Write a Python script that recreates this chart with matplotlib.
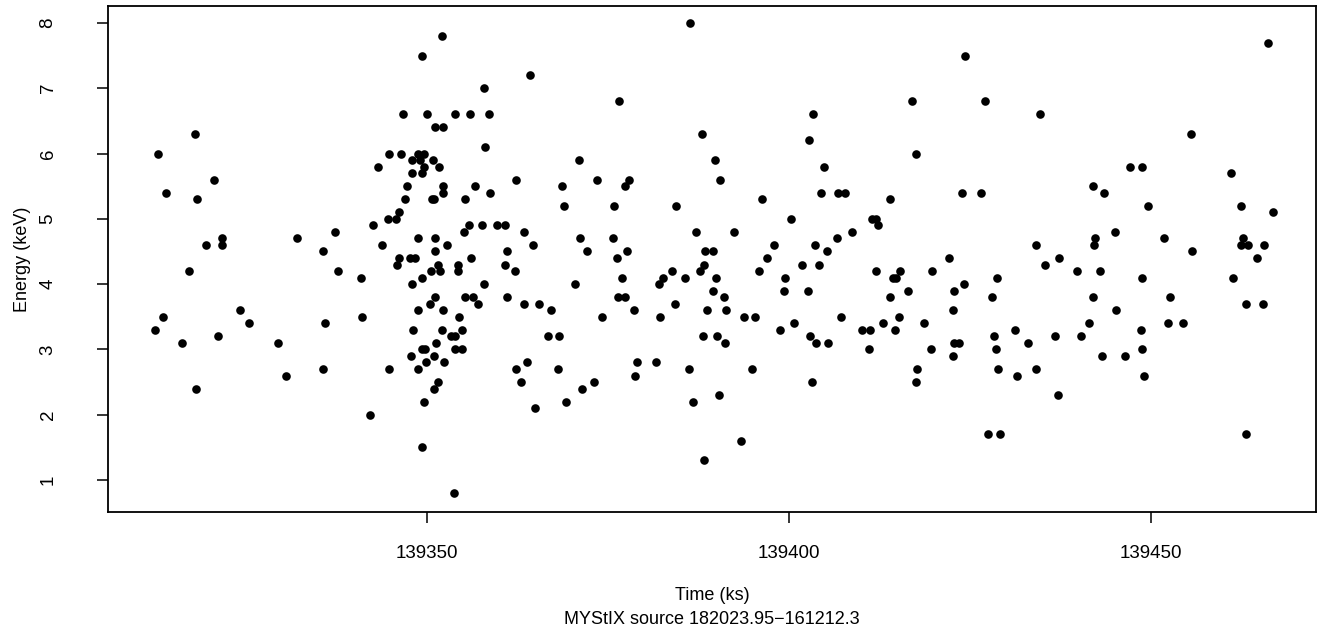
import matplotlib
matplotlib.use("Agg")
import matplotlib.pyplot as plt
import numpy as np

plt.rcParams['font.family'] = ['Liberation Sans', 'DejaVu Sans']

time_ks = [
    139312.4, 139312.8, 139313.5, 139314.0, 139316.2, 139317.1, 139318.0, 139318.1, 139318.2, 139319.5,
    139320.6, 139321.1, 139321.7, 139321.7, 139324.2, 139325.4, 139329.4, 139330.5, 139332.0, 139335.6,
    139335.6, 139335.9, 139337.3, 139337.7, 139340.9, 139341.0, 139342.1, 139342.5, 139343.2, 139343.8,
    139344.6, 139344.8, 139344.8, 139345.7, 139345.9, 139346.1, 139346.4, 139346.7, 139347.0, 139347.2,
    139347.8, 139347.9, 139347.9, 139347.9, 139348.1, 139348.8, 139348.8, 139348.8, 139348.8, 139349.0,
    139349.3, 139349.3, 139349.3, 139349.3, 139349.3, 139349.6, 139349.6, 139349.6, 139349.7, 139349.9,
    139350.0, 139350.4, 139350.6, 139350.7, 139350.8, 139351.0, 139351.0, 139351.0, 139351.1, 139351.1,
    139351.1, 139351.1, 139351.2, 139351.5, 139351.5, 139351.7, 139351.8, 139352.1, 139352.1, 139352.2,
    139352.2, 139352.2, 139352.2, 139352.3, 139352.8, 139353.3, 139353.7, 139353.9, 139353.9, 139353.9,
    139354.3, 139354.3, 139354.4, 139354.8, 139354.8, 139355.1, 139355.2, 139355.2, 139355.8, 139355.9,
    139356.4, 139356.6, 139357.0, 139357.6, 139357.9, 139357.9, 139358.0, 139358.6, 139358.7, 139359.7,
    139360.8, 139360.8, 139361.0, 139361.0, 139346.1, 139347.6, 139348.3, 139356.1,
    139362.2, 139362.3, 139362.3, 139363.0, 139363.4, 139363.4, 139363.8, 139364.2, 139364.6, 139364.9,
    139365.5, 139366.7, 139367.1, 139368.1, 139368.2, 139368.6, 139368.9, 139369.2, 139370.4, 139371.0,
    139371.1, 139371.4, 139372.1, 139373.1, 139373.5, 139374.2, 139375.7, 139375.8, 139376.2, 139376.4,
    139376.5, 139376.9, 139377.3, 139377.3, 139377.6, 139377.9, 139378.6, 139378.7, 139379.0, 139381.6,
    139382.0, 139382.2, 139382.6, 139383.8, 139384.3, 139384.4, 139385.6, 139386.2, 139386.3,
    139386.7, 139387.2, 139387.7, 139388.0, 139388.1, 139388.3, 139388.3, 139388.4, 139388.7, 139389.5,
    139389.5, 139389.8, 139389.9, 139390.1, 139390.3, 139390.5, 139391.0, 139391.2, 139391.3, 139392.4,
    139393.4, 139393.8, 139394.9, 139395.3, 139395.9, 139396.3, 139397.0, 139397.9, 139398.8, 139399.3,
    139399.4, 139400.3, 139400.7, 139401.8, 139402.6, 139402.8, 139402.9, 139403.2, 139403.3, 139403.6,
    139403.7, 139404.1, 139404.4, 139404.8, 139405.2, 139405.4, 139406.6, 139406.8, 139407.2, 139407.7,
    139408.7, 139410.1, 139411.0, 139411.2,
    139411.5, 139412.0, 139412.0, 139412.3, 139413.0, 139414.0, 139414.0, 139414.4, 139414.8, 139414.6,
    139415.2, 139415.3, 139416.4, 139417.0, 139417.5, 139417.5, 139417.7, 139418.6, 139419.6, 139419.8,
    139422.1, 139422.7, 139422.7, 139422.8, 139422.8, 139423.5, 139423.9, 139424.2, 139424.3, 139426.5,
    139427.1, 139427.5, 139428.0, 139428.3, 139428.6, 139428.7, 139428.9, 139429.1, 139431.2, 139431.5,
    139433.0, 139434.1, 139434.1, 139434.7, 139435.4,
    139436.7, 139437.2, 139437.3, 139439.8, 139440.3, 139441.4, 139442.0, 139442.0, 139442.1, 139442.3,
    139443.0, 139443.2, 139443.5, 139445.0, 139445.2, 139446.4, 139447.1, 139448.6, 139448.8, 139448.8,
    139448.8, 139449.0, 139449.6, 139451.8, 139452.3, 139452.6, 139454.4, 139455.5, 139455.7, 139461.0,
    139461.3,
    139462.4, 139462.7, 139462.4, 139463.4, 139465.6, 139464.6, 139463.1, 139465.5, 139463.1, 139466.2,
    139466.9,
]

energy_kev = [
    3.3, 6.0, 3.5, 5.4, 3.1, 4.2, 6.3, 2.4, 5.3, 4.6,
    5.6, 3.2, 4.7, 4.6, 3.6, 3.4, 3.1, 2.6, 4.7, 4.5,
    2.7, 3.4, 4.8, 4.2, 4.1, 3.5, 2.0, 4.9, 5.8, 4.6,
    5.0, 6.0, 2.7, 5.0, 4.3, 5.1, 6.0, 6.6, 5.3, 5.5,
    2.9, 5.9, 5.7, 4.0, 3.3, 6.0, 4.7, 3.6, 2.7, 5.9,
    7.5, 5.7, 4.1, 3.0, 1.5, 6.0, 5.8, 2.2, 3.0, 2.8,
    6.6, 3.7, 4.2, 5.3, 5.9, 5.3, 2.9, 2.4, 6.4, 4.7,
    4.5, 3.8, 3.1, 4.3, 2.5, 5.8, 4.2, 7.8, 3.3, 6.4,
    5.5, 5.4, 3.6, 2.8, 4.6, 3.2, 0.8, 6.6, 3.2, 3.0,
    4.3, 4.2, 3.5, 3.3, 3.0, 4.8, 5.3, 3.8, 4.9, 6.6,
    3.8, 5.5, 3.7, 4.9, 7.0, 4.0, 6.1, 6.6, 5.4, 4.9,
    4.9, 4.3, 4.5, 3.8, 4.4, 4.4, 4.4, 4.4,
    4.2, 5.6, 2.7, 2.5, 4.8, 3.7, 2.8, 7.2, 4.6, 2.1,
    3.7, 3.2, 3.6, 2.7, 3.2, 5.5, 5.2, 2.2, 4.0, 5.9,
    4.7, 2.4, 4.5, 2.5, 5.6, 3.5, 4.7, 5.2, 4.4, 3.8,
    6.8, 4.1, 5.5, 3.8, 4.5, 5.6, 3.6, 2.6, 2.8, 2.8,
    4.0, 3.5, 4.1, 4.2, 3.7, 5.2, 4.1, 2.7, 8.0,
    2.2, 4.8, 4.2, 6.3, 3.2, 4.3, 1.3, 4.5, 3.6, 4.5,
    3.9, 5.9, 4.1, 3.2, 2.3, 5.6, 3.8, 3.1, 3.6, 4.8,
    1.6, 3.5, 2.7, 3.5, 4.2, 5.3, 4.4, 4.6, 3.3, 3.9,
    4.1, 5.0, 3.4, 4.3, 3.9, 6.2, 3.2, 2.5, 6.6, 4.6,
    3.1, 4.3, 5.4, 5.8, 4.5, 3.1, 4.7, 5.4, 3.5, 5.4,
    4.8, 3.3, 3.0, 3.3,
    5.0, 5.0, 4.2, 4.9, 3.4, 5.3, 3.8, 4.1, 4.1, 3.3,
    3.5, 4.2, 3.9, 6.8, 6.0, 2.5, 2.7, 3.4, 3.0, 4.2,
    4.4, 3.6, 2.9, 3.9, 3.1, 3.1, 5.4, 4.0, 7.5, 5.4,
    6.8, 1.7, 3.8, 3.2, 3.0, 4.1, 2.7, 1.7, 3.3, 2.6,
    3.1, 4.6, 2.7, 6.6, 4.3,
    3.2, 2.3, 4.4, 4.2, 3.2, 3.4, 5.5, 3.8, 4.6, 4.7,
    4.2, 2.9, 5.4, 4.8, 3.6, 2.9, 5.8, 3.3, 5.8, 4.1,
    3.0, 2.6, 5.2, 4.7, 3.4, 3.8, 3.4, 6.3, 4.5, 5.7,
    4.1,
    5.2, 4.7, 4.6, 4.6, 4.6, 4.4, 3.7, 3.7, 1.7, 7.7,
    5.1,
]

x_ticks = [139350, 139400, 139450]
y_ticks = [1, 2, 3, 4, 5, 6, 7, 8]
x_label = "Time (ks)"
y_label = "Energy (keV)"
subtitle = "MYStIX source 182023.95\u2212161212.3"

W, H = 1317, 638
fig = plt.figure(figsize=(W / 100, H / 100), dpi=100)
ax = fig.add_axes([108 / W, 1 - 512 / H, (1316 - 108) / W, (512 - 6) / H])

ax.plot(time_ks, energy_kev, linestyle='none', marker='o', markersize=6.2,
        markerfacecolor='black', markeredgecolor='black', markeredgewidth=0)

ax.set_xlim(139305.94, 139472.79)
ax.set_ylim(0.51, 8.259)
ax.set_xticks(x_ticks)
ax.set_xticklabels([str(v) for v in x_ticks])
ax.set_yticks(y_ticks)
ax.set_yticklabels([str(v) for v in y_ticks], rotation=90, va='center')

for s in ax.spines.values():
    s.set_linewidth(1.3)
    s.set_color('black')
ax.tick_params(axis='both', direction='out', length=8, width=1.1, labelsize=13.5, colors='black')
ax.tick_params(axis='x', pad=15.5)
ax.tick_params(axis='y', pad=29)

fig.text(712 / W, 1 - 596 / H, x_label, ha='center', va='center', fontsize=13)
fig.text(712 / W, 1 - 620 / H, subtitle, ha='center', va='center', fontsize=13)
fig.text(23 / W, 1 - 259 / H, y_label, ha='center', va='center', rotation=90, fontsize=13)

fig.savefig("out.png", dpi=100)
